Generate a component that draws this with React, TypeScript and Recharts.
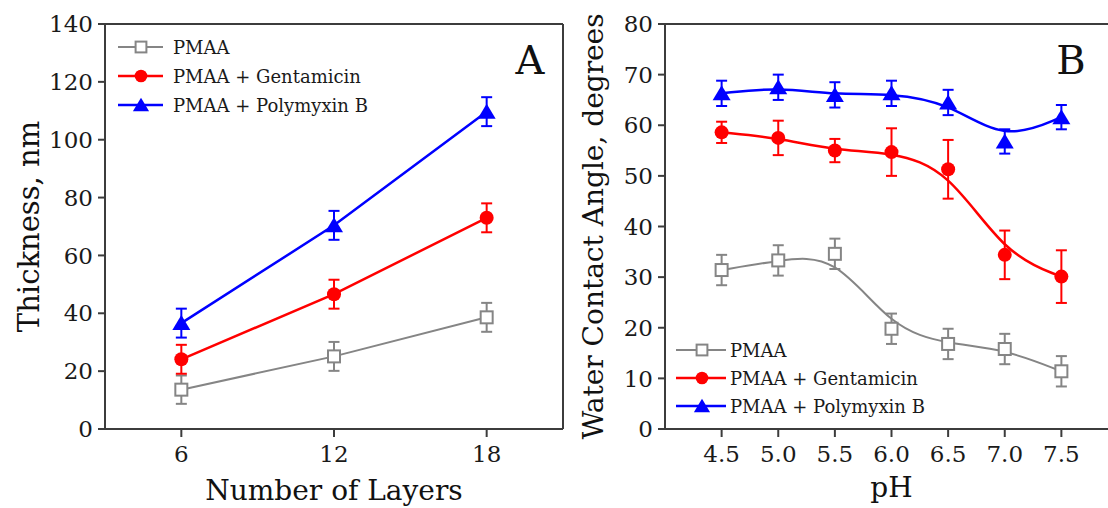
import React from "react";
import { LineChart, Line, XAxis, YAxis, ErrorBar, ReferenceLine, Legend } from "recharts";

// Panel A: film thickness vs number of layers
const layers = [6, 12, 18];
const thickPmaa = [13.6, 25.1, 38.6];
const thickPmaaErr = [4.9, 5, 5];
const thickGent = [24.1, 46.6, 73.0];
const thickGentErr = [5, 5, 5];
const thickPoly = [36.6, 70.4, 109.7];
const thickPolyErr = [5, 5, 5];
const layerTicks = [6, 12, 18];
const thickTicks = [0, 20, 40, 60, 80, 100, 120, 140];

// Panel B: water contact angle vs pH
const ph = [4.5, 5.0, 5.5, 6.0, 6.5, 7.0, 7.5];
const wcaPmaa = [31.4, 33.3, 34.6, 19.8, 16.8, 15.8, 11.4];
const wcaPmaaErr = [3, 3, 3, 3, 3, 3, 3];
const wcaGent = [58.6, 57.5, 55.0, 54.7, 51.3, 34.4, 30.1];
const wcaGentErr = [2.1, 3.4, 2.3, 4.7, 5.8, 4.8, 5.2];
const wcaPoly = [66.3, 67.5, 66.0, 66.3, 64.5, 56.8, 61.6];
const wcaPolyErr = [2.5, 2.5, 2.5, 2.5, 2.5, 2.4, 2.4];
const phTicks = [4.5, 5.0, 5.5, 6.0, 6.5, 7.0, 7.5];
const wcaTicks = [0, 10, 20, 30, 40, 50, 60, 70, 80];

const seriesNames = ["PMAA", "PMAA + Gentamicin", "PMAA + Polymyxin B"];

const GRAY = "#858585";
const RED = "#ff0000";
const BLUE = "#0000ff";
const AXIS = "#3c3c3c";
const FONT = "DejaVu Serif";

const styles = [
  { shape: "square", color: GRAY, width: 2 },
  { shape: "circle", color: RED, width: 2.5 },
  { shape: "triangle", color: BLUE, width: 2.5 },
];

const dataA = layers.map((x, i) => ({
  x,
  pmaa: thickPmaa[i],
  pmaaErr: thickPmaaErr[i],
  gent: thickGent[i],
  gentErr: thickGentErr[i],
  poly: thickPoly[i],
  polyErr: thickPolyErr[i],
}));

const dataB = ph.map((x, i) => ({
  x,
  pmaa: wcaPmaa[i],
  pmaaErr: wcaPmaaErr[i],
  gent: wcaGent[i],
  gentErr: wcaGentErr[i],
  poly: wcaPoly[i],
  polyErr: wcaPolyErr[i],
}));

function Marker({ shape, color, x, y, s = 1 }: { shape: string; color: string; x: number; y: number; s?: number }) {
  if (shape === "square") {
    const h = 6 * s;
    return <rect x={x - h} y={y - h} width={2 * h} height={2 * h} fill="#fff" stroke={color} strokeWidth={2} />;
  }
  if (shape === "circle") {
    return <circle cx={x} cy={y} r={7 * s} fill={color} />;
  }
  const w = 9 * s;
  return (
    <polygon
      points={`${x},${y - 8 * s} ${x + w},${y + 7 * s} ${x - w},${y + 7 * s}`}
      fill={color}
    />
  );
}

const makeDot = (shape: string, color: string) => (props: any) => {
  const { cx, cy, index } = props;
  if (cx == null || cy == null) return <g key={`e-${index}`} />;
  return <Marker key={`${shape}-${index}`} shape={shape} color={color} x={cx} y={cy} />;
};

function SeriesLegend({ rowH, lineLen, markX, textX }: { rowH: number; lineLen: number; markX: number; textX: number }) {
  return (
    <svg width={300} height={rowH * 3 + 10} style={{ display: "block" }}>
      {seriesNames.map((name, i) => {
        const y = 17 + i * rowH;
        const st = styles[i];
        return (
          <g key={name}>
            <line x1={8} x2={8 + lineLen} y1={y} y2={y} stroke={st.color} strokeWidth={st.width} />
            <Marker shape={st.shape} color={st.color} x={markX} y={y} s={0.9} />
            <text x={textX} y={y + 6.5} fontSize={18} fontFamily={FONT} fill="#1a1a1a">
              {name}
            </text>
          </g>
        );
      })}
    </svg>
  );
}

const tickStyle = { fontSize: 23, fill: "#1a1a1a", fontFamily: FONT };
const axisStyle = { stroke: AXIS, strokeWidth: 2 };

function PanelLetter({ text, left }: { text: string; left: number }) {
  return (
    <div
      style={{
        position: "absolute",
        left,
        top: 40,
        width: 60,
        textAlign: "center",
        fontFamily: FONT,
        fontSize: 40,
        lineHeight: "40px",
        color: "#111",
      }}
    >
      {text}
    </div>
  );
}

export default function App() {
  return (
    <div
      style={{
        position: "fixed",
        left: 0,
        top: 0,
        width: 1108,
        height: 508,
        overflow: "hidden",
        background: "#fff",
        fontFamily: FONT,
      }}
    >
      <div style={{ position: "absolute", left: 0, top: 0 }}>
        <LineChart width={580} height={508} data={dataA} margin={{ top: 24, right: 17, left: 0, bottom: 0 }}>
          <XAxis
            dataKey="x"
            type="number"
            domain={[3, 21]}
            ticks={layerTicks}
            tick={tickStyle}
            tickSize={8}
            tickMargin={9}
            axisLine={axisStyle}
            tickLine={axisStyle}
            height={79}
            label={{
              value: "Number of Layers",
              position: "insideBottom",
              offset: 8,
              style: { fontSize: 28, fill: "#111", fontFamily: FONT },
            }}
          />
          <YAxis
            type="number"
            domain={[0, 140]}
            ticks={thickTicks}
            tick={tickStyle}
            tickSize={7}
            tickMargin={5}
            axisLine={axisStyle}
            tickLine={axisStyle}
            width={105}
            label={{
              value: "Thickness, nm",
              angle: -90,
              position: "insideLeft",
              offset: 29,
              style: { textAnchor: "middle", fontSize: 29, fill: "#111", fontFamily: FONT },
            }}
          />
          <ReferenceLine y={140} stroke={AXIS} strokeWidth={2} ifOverflow="visible" />
          <ReferenceLine x={21} stroke={AXIS} strokeWidth={2} ifOverflow="visible" />
          <Line dataKey="pmaa" stroke={GRAY} strokeWidth={2} isAnimationActive={false} dot={makeDot("square", GRAY)}>
            <ErrorBar dataKey="pmaaErr" direction="y" width={5.5} stroke={GRAY} strokeWidth={2} isAnimationActive={false} />
          </Line>
          <Line dataKey="gent" stroke={RED} strokeWidth={2.5} isAnimationActive={false} dot={makeDot("circle", RED)}>
            <ErrorBar dataKey="gentErr" direction="y" width={5.5} stroke={RED} strokeWidth={2} isAnimationActive={false} />
          </Line>
          <Line dataKey="poly" stroke={BLUE} strokeWidth={2.5} isAnimationActive={false} dot={makeDot("triangle", BLUE)}>
            <ErrorBar dataKey="polyErr" direction="y" width={5.5} stroke={BLUE} strokeWidth={2} isAnimationActive={false} />
          </Line>
          <Legend
            layout="vertical"
            align="center"
            verticalAlign="middle"
            wrapperStyle={{ left: 110, top: 30, width: 300, height: 100 }}
            content={() => <SeriesLegend rowH={29} lineLen={45} markX={31} textX={63} />}
          />
        </LineChart>
      </div>
      <PanelLetter text="A" left={500} />

      <div style={{ position: "absolute", left: 560, top: 0 }}>
        <LineChart width={580} height={508} data={dataB} margin={{ top: 24, right: 22, left: 0, bottom: 0 }}>
          <XAxis
            dataKey="x"
            type="number"
            domain={[4, 8]}
            ticks={phTicks}
            tickFormatter={(v: number) => v.toFixed(1)}
            tick={tickStyle}
            tickSize={8}
            tickMargin={9}
            axisLine={axisStyle}
            tickLine={axisStyle}
            height={79}
            label={{
              value: "pH",
              position: "insideBottom",
              offset: 11,
              style: { fontSize: 28, fill: "#111", fontFamily: FONT },
            }}
          />
          <YAxis
            type="number"
            domain={[0, 80]}
            ticks={wcaTicks}
            tick={tickStyle}
            tickSize={7}
            tickMargin={5}
            axisLine={axisStyle}
            tickLine={axisStyle}
            width={105}
            label={{
              value: "Water Contact Angle, degrees",
              angle: -90,
              position: "insideLeft",
              offset: 33,
              style: { textAnchor: "middle", fontSize: 28, fill: "#111", fontFamily: FONT },
            }}
          />
          <ReferenceLine y={80} stroke={AXIS} strokeWidth={2} ifOverflow="visible" />
          <ReferenceLine x={8} stroke={AXIS} strokeWidth={2} ifOverflow="visible" />
          <Line type="basis" dataKey="pmaa" stroke={GRAY} strokeWidth={2} isAnimationActive={false} dot={makeDot("square", GRAY)}>
            <ErrorBar dataKey="pmaaErr" direction="y" width={5.5} stroke={GRAY} strokeWidth={2} isAnimationActive={false} />
          </Line>
          <Line type="basis" dataKey="gent" stroke={RED} strokeWidth={2.5} isAnimationActive={false} dot={makeDot("circle", RED)}>
            <ErrorBar dataKey="gentErr" direction="y" width={5.5} stroke={RED} strokeWidth={2} isAnimationActive={false} />
          </Line>
          <Line type="basis" dataKey="poly" stroke={BLUE} strokeWidth={2.5} isAnimationActive={false} dot={makeDot("triangle", BLUE)}>
            <ErrorBar dataKey="polyErr" direction="y" width={5.5} stroke={BLUE} strokeWidth={2} isAnimationActive={false} />
          </Line>
          <Legend
            layout="vertical"
            align="center"
            verticalAlign="middle"
            wrapperStyle={{ left: 108, top: 333, width: 300, height: 100 }}
            content={() => <SeriesLegend rowH={28} lineLen={50} markX={34} textX={62} />}
          />
        </LineChart>
      </div>
      <PanelLetter text="B" left={1041} />
    </div>
  );
}
